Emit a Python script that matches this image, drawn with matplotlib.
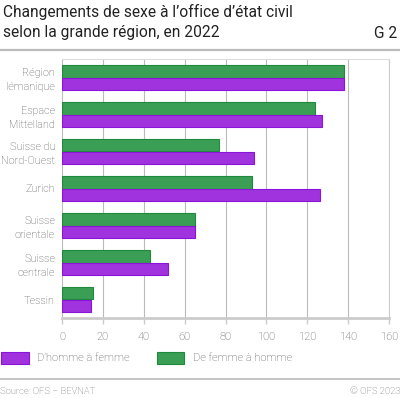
import matplotlib
matplotlib.use("Agg")
import matplotlib.pyplot as plt
from matplotlib.patches import Rectangle
import numpy as np

plt.rcParams['font.family'] = ['Roboto', 'DejaVu Sans']

categories = ["Région\nlémanique", "Espace\nMittelland", "Suisse du\nNord-Ouest", "Zurich",
              "Suisse\norientale", "Suisse\ncentrale", "Tessin"]
homme_femme = [138, 127, 94, 126, 65, 52, 14]
femme_homme = [138, 124, 77, 93, 65, 43, 15]
xticks = [0, 20, 40, 60, 80, 100, 120, 140, 160]

purple = "#a033dd"
purple_edge = "#8a14d8"
green = "#3a9e54"
green_edge = "#1f8a3c"
txt = "#505050"

fig = plt.figure(figsize=(4.0, 3.98), dpi=100)
ax = fig.add_axes([62/400, 1-318/398, (389-62)/400, (318-59)/398])

y = np.arange(len(categories))
h = 0.343
ax.barh(y - h/2, femme_homme, height=h, color=green, edgecolor=green_edge, linewidth=0.8, zorder=3)
ax.barh(y + h/2, homme_femme, height=h, color=purple, edgecolor=purple_edge, linewidth=0.8, zorder=3)

ax.set_ylim(6.5, -0.5)
ax.set_xlim(0, 160)
ax.set_xticks(xticks)
ax.set_xticklabels([str(v) for v in xticks], color=txt, fontsize=8, fontweight='light')
ax.set_yticks(y)
ax.set_yticklabels(categories, color=txt, fontsize=7.8, linespacing=1.5, fontweight='light')
ax.tick_params(axis='y', length=0, pad=5)
ax.tick_params(axis='x', length=4, color="#cccccc", width=1, pad=6)
ax.grid(axis='x', color="#bbbbbb", linewidth=0.8, zorder=0)
ax.spines['left'].set_visible(False)
ax.spines['top'].set_color("#dddddd")
ax.spines['right'].set_color("#cccccc")
ax.spines['right'].set_linewidth(0.8)
ax.spines['top'].set_linewidth(0.8)
ax.spines['bottom'].set_color("#cccccc")
ax.spines['bottom'].set_linewidth(2)

# title
fig.text(3/400, 1-12/398, "Changements de sexe à l’office d’état civil",
         fontsize=11.2, color="#222222", va='center', ha='left')
fig.text(3/400, 1-33/398, "selon la grande région, en 2022",
         fontsize=11.2, color="#222222", va='center', ha='left')
fig.text(397/400, 1-33/398, "G 2", fontsize=11.2, color="#222222", va='center', ha='right')
fig.add_artist(plt.Line2D([0, 1], [1-50/398, 1-50/398], color="#bbbbbb", linewidth=1.6))

# legend
ly = 1-358/398
fig.add_artist(Rectangle((1/400, ly-6/398), 28/400, 12/398, facecolor=purple, edgecolor=purple_edge, linewidth=0.8))
fig.text(37/400, ly, "D’homme à femme", fontsize=8, color=txt, va='center', ha='left', fontweight='light')
fig.add_artist(Rectangle((157/400, ly-6/398), 27/400, 12/398, facecolor=green, edgecolor=green_edge, linewidth=0.8))
fig.text(193/400, ly, "De femme à homme", fontsize=8, color=txt, va='center', ha='left', fontweight='light')

fig.add_artist(plt.Line2D([0, 1], [1-379/398, 1-379/398], color="#bbbbbb", linewidth=1.2))
fig.text(0/400, 1-392/398, "Source: OFS – BEVNAT", fontsize=6.8, color="#666666", va='center', ha='left', fontweight='light')
fig.text(400/400, 1-392/398, "© OFS 2023", fontsize=6.8, color="#666666", va='center', ha='right', fontweight='light')

fig.savefig("out.png", dpi=100)
